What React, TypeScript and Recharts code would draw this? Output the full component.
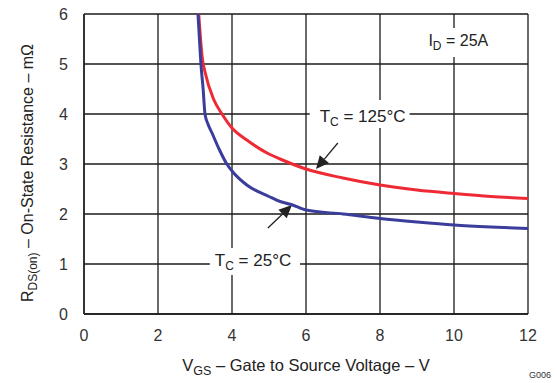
import { LineChart, Line, XAxis, YAxis, CartesianGrid, ReferenceArea, ReferenceLine } from "recharts";

const vgsTicks = [0, 2, 4, 6, 8, 10, 12];
const rdsTicks = [0, 1, 2, 3, 4, 5, 6];

// Tc = 25°C
const vgs25 = [3.08, 3.12, 3.16, 3.22, 3.27, 3.35, 3.46, 3.65, 3.86, 4, 4.4, 5, 5.3, 5.6, 6, 7, 8, 9, 10, 11, 12];
const rds25 = [6, 5.5, 5, 4.5, 4, 3.8, 3.62, 3.3, 3.0, 2.86, 2.58, 2.35, 2.25, 2.19, 2.08, 2.0, 1.91, 1.84, 1.78, 1.74, 1.71];

// Tc = 125°C
const vgs125 = [3.1, 3.15, 3.2, 3.27, 3.5, 3.73, 4, 4.4, 5, 5.3, 6, 7, 8, 9, 10, 11, 12];
const rds125 = [6, 5.5, 5.1, 4.84, 4.3, 4, 3.72, 3.48, 3.2, 3.1, 2.9, 2.72, 2.58, 2.48, 2.41, 2.35, 2.31];

const cold = vgs25.map((v, i) => ({ vgs: v, rds: rds25[i] }));
const hot = vgs125.map((v, i) => ({ vgs: v, rds: rds125[i] }));

const RED = "#ee2a35";
const BLUE = "#3b3d9c";
const FONT = "'Liberation Sans', Arial, sans-serif";

const Arrow = (props: any) => {
  const { x1, y1, x2, y2 } = props;
  const ang = Math.atan2(y2 - y1, x2 - x1);
  const len = 13;
  const w = 6;
  const bx = x2 - len * Math.cos(ang);
  const by = y2 - len * Math.sin(ang);
  const px = -Math.sin(ang) * w;
  const py = Math.cos(ang) * w;
  return (
    <g>
      <line x1={x1} y1={y1} x2={bx} y2={by} stroke="#222" strokeWidth={1.3} />
      <polygon points={`${x2},${y2} ${bx + px},${by + py} ${bx - px},${by - py}`} fill="#222" />
    </g>
  );
};

const tcLabel = (temp: string, dx: number, dy: number) => (p: any) => {
  const { x, y, height } = p.viewBox;
  return (
    <text x={x + dx} y={y + height / 2 + dy} fontSize={17} fill="#222" fontFamily={FONT}>
      T<tspan fontSize={12} dy={4}>C</tspan>
      <tspan dy={-4}>{` = ${temp}°C`}</tspan>
    </text>
  );
};

const idLabel = (p: any) => {
  const { x, y, height } = p.viewBox;
  return (
    <text x={x + 4} y={y + height / 2 + 3} fontSize={16} fill="#222" fontFamily={FONT}>
      I<tspan fontSize={12} dy={4}>D</tspan>
      <tspan dy={-4}> = 25A</tspan>
    </text>
  );
};

export default function App() {
  return (
    <div style={{ position: "absolute", left: 0, top: 0, background: "#fff" }}>
      <LineChart width={557} height={383} margin={{ top: 14, right: 29, left: 0, bottom: 0 }}>
        <CartesianGrid stroke="#1a1a1a" strokeWidth={1.3} horizontalValues={rdsTicks} verticalValues={vgsTicks} />
        <XAxis
          type="number"
          dataKey="vgs"
          domain={[0, 12]}
          ticks={vgsTicks}
          height={69}
          tickLine={false}
          tickMargin={10}
          axisLine={{ stroke: "#1a1a1a", strokeWidth: 1.3 }}
          tick={{ fontSize: 16, fill: "#333", fontFamily: FONT }}
          allowDataOverflow
        />
        <YAxis
          type="number"
          dataKey="rds"
          domain={[0, 6]}
          ticks={rdsTicks}
          width={84}
          tickLine={false}
          tickMargin={10}
          axisLine={{ stroke: "#1a1a1a", strokeWidth: 1.3 }}
          tick={{ fontSize: 16, fill: "#333", fontFamily: FONT }}
          allowDataOverflow
        />
        <ReferenceArea x1={6.1} x2={8.8} y1={3.72} y2={4.28} fill="#fff" fillOpacity={1} stroke="none" label={tcLabel("125", 10, 8)} />
        <ReferenceArea x1={3.4} x2={5.84} y1={0.78} y2={1.32} fill="#fff" fillOpacity={1} stroke="none" label={tcLabel("25", 5, 4)} />
        <ReferenceArea x1={9.2} x2={11.1} y1={5.14} y2={5.72} fill="#fff" fillOpacity={1} stroke="none" label={idLabel} />
        <ReferenceLine segment={[{ x: 6.86, y: 3.42 }, { x: 6.27, y: 2.9 }]} shape={Arrow} />
        <ReferenceLine segment={[{ x: 4.97, y: 1.72 }, { x: 5.62, y: 2.18 }]} shape={Arrow} />
        <Line data={hot} type="monotone" dataKey="rds" stroke={RED} strokeWidth={3} dot={false} isAnimationActive={false} />
        <Line data={cold} type="monotone" dataKey="rds" stroke={BLUE} strokeWidth={3} dot={false} isAnimationActive={false} />
        <text x={33} y={173} transform="rotate(-90 33 173)" textAnchor="middle" fontSize={16} fill="#222" fontFamily={FONT}>
          R<tspan fontSize={12} dy={4}>DS(on)</tspan>
          <tspan dy={-4}> – On-State Resistance – mΩ</tspan>
        </text>
        <text x={306} y={371} textAnchor="middle" fontSize={16.5} fill="#222" fontFamily={FONT}>
          V<tspan fontSize={12.5} dy={4}>GS</tspan>
          <tspan dy={-4}> – Gate to Source Voltage – V</tspan>
        </text>
        <text x={529} y={378} fontSize={9} fill="#333" fontFamily={FONT}>G006</text>
      </LineChart>
    </div>
  );
}
